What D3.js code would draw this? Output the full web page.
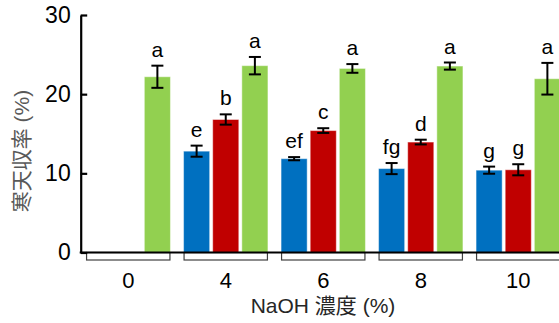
<!DOCTYPE html>
<html><head><meta charset="utf-8">
<script src="https://cdn.jsdelivr.net/npm/d3@7"></script>
<style>html,body{margin:0;padding:0;background:#fff;overflow:hidden}</style>
</head><body>
<svg id="c" width="559" height="323"></svg>
<script>
const categories = ["0", "4", "6", "8", "10"];
const seriesNames = ["s1", "s2", "s3"];
const colors = ["#0070C0", "#C00000", "#92D050"];
const s1 = [null, 12.8, 11.85, 10.6, 10.4];
const s2 = [null, 16.8, 15.4, 13.95, 10.45];
const s3 = [22.2, 23.6, 23.25, 23.55, 21.95];
const e1 = [null, 0.7, 0.2, 0.7, 0.45];
const e2 = [null, 0.65, 0.3, 0.3, 0.7];
const e3 = [1.4, 1.1, 0.55, 0.45, 2.0];
const l1 = [null, "e", "ef", "fg", "g"];
const l2 = [null, "b", "c", "d", "g"];
const l3 = ["a", "a", "a", "a", "a"];
const yTicks = [0, 10, 20, 30];
const yTitle = "寒天収率 (%)";
const xTitle = "NaOH 濃度 (%)";

const values = [s1, s2, s3], errs = [e1, e2, e3], letters = [l1, l2, l3];
const font = "Liberation Sans, Arial, Noto Sans CJK JP, sans-serif";
const svg = d3.select("#c");
const axX = 80.7, y0 = 252.5;
const y = d3.scaleLinear().domain([0, 30]).range([y0, 15]);
const x0 = d3.scaleBand().domain(categories).range([79.5, 79.5 + 5 * 97.5]).paddingInner(0.145).paddingOuter(0.0725);
const x1 = d3.scaleBand().domain(seriesNames).range([-1, x0.bandwidth() + 1]).paddingInner(0.07);

const data = [];
categories.forEach((c, i) => seriesNames.forEach((s, j) => {
  if (values[j][i] != null) data.push({c, s, j, v: values[j][i], e: errs[j][i], l: letters[j][i]});
}));

// brackets under groups
svg.append("g").selectAll("rect").data(categories).join("rect")
  .attr("x", d => x0(d)).attr("y", y0).attr("width", x0.bandwidth()).attr("height", 7.5)
  .attr("fill", "#fff").attr("stroke", "#404040").attr("stroke-width", 1.2);

// bars
svg.append("g").selectAll("rect").data(data).join("rect")
  .attr("x", d => x0(d.c) + x1(d.s) + 0.5).attr("y", d => y(d.v))
  .attr("width", x1.bandwidth() - 1).attr("height", d => y0 - y(d.v))
  .attr("fill", d => colors[d.j])
  .attr("stroke", "rgba(255,255,255,0.45)").attr("stroke-width", 1);

// error bars
const eg = svg.append("g").attr("stroke", "#000").attr("stroke-width", 2);
data.forEach(d => {
  const cx = x0(d.c) + x1(d.s) + x1.bandwidth() / 2;
  eg.append("line").attr("x1", cx).attr("x2", cx).attr("y1", y(d.v + d.e)).attr("y2", y(d.v - d.e));
  [d.v + d.e, d.v - d.e].forEach(v => eg.append("line").attr("x1", cx - 6).attr("x2", cx + 6).attr("y1", y(v)).attr("y2", y(v)));
});

// letters
svg.append("g").selectAll("text").data(data).join("text")
  .attr("x", d => x0(d.c) + x1(d.s) + x1.bandwidth() / 2)
  .attr("y", d => y(d.v + d.e) - 9)
  .attr("text-anchor", "middle").attr("font-family", font).attr("font-size", 21).attr("fill", "#000")
  .text(d => d.l);

// y axis
const ya = svg.append("g").attr("transform", `translate(${axX},0)`)
  .call(d3.axisLeft(y).tickValues(yTicks).tickSizeInner(-6.5).tickSizeOuter(0).tickPadding(10));
ya.select(".domain").attr("stroke", "#000").attr("stroke-width", 2.2);
ya.selectAll(".tick line").attr("stroke", "#000").attr("stroke-width", 2.2);
ya.selectAll(".tick text").attr("font-family", font).attr("font-size", 23).attr("fill", "#000");

// x axis line
svg.append("line").attr("x1", axX - 1).attr("x2", 559).attr("y1", y0).attr("y2", y0)
  .attr("stroke", "#000").attr("stroke-width", 2.2);

// x tick labels
const xa = svg.append("g").attr("transform", `translate(0,${y0})`)
  .call(d3.axisBottom(x0).tickSize(0).tickPadding(20));
xa.select(".domain").remove();
xa.selectAll(".tick text").attr("font-family", font).attr("font-size", 22).attr("fill", "#000");

// titles
svg.append("text").attr("x", 323).attr("y", 313).attr("text-anchor", "middle")
  .attr("font-family", font).attr("font-size", 21).attr("fill", "#262626").text(xTitle);
svg.append("text").attr("transform", "translate(29,151) rotate(-90)").attr("text-anchor", "middle")
  .attr("font-family", font).attr("font-size", 21).attr("fill", "#595959").text(yTitle);
</script>
</body></html>
